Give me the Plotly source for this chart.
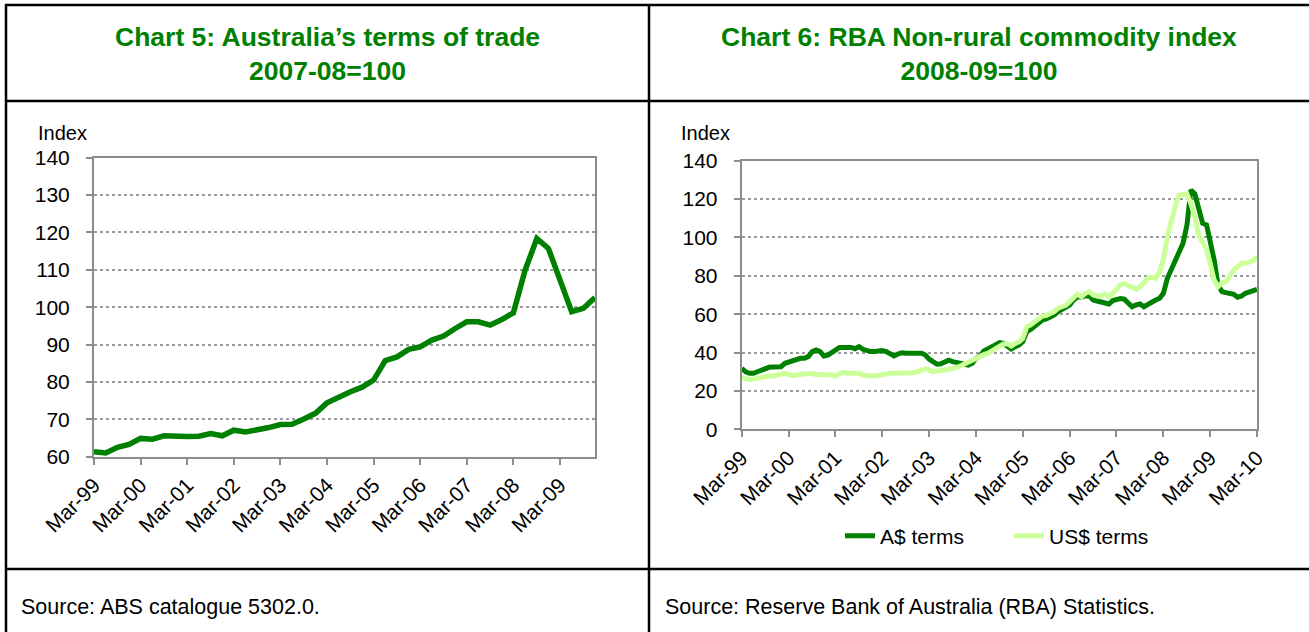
import pandas as pd
import plotly.graph_objects as go

W, H = 1309, 632

# ---------------- Data ----------------
# Chart 5: quarterly terms of trade, Mar-99 .. Dec-09
tot_dates = pd.date_range("1999-03-01", "2009-12-01", freq="3MS")
tot_values = [61.3, 61.0, 62.5, 63.3, 64.9, 64.7, 65.6, 65.4, 65.4, 65.5, 66.2,
              65.6, 67.1, 66.6, 67.1, 67.8, 68.6, 68.7, 70.1, 71.6, 74.4, 76.1,
              77.4, 78.6, 80.5, 85.7, 86.7, 88.7, 89.4, 91.2, 92.3, 94.3, 96.1,
              96.1, 95.2, 96.7, 98.5, 109.9, 118.4, 115.7, 106.8, 98.8, 99.7, 102.6]

# Chart 6: monthly RBA non-rural commodity index, Mar-99 .. Mar-10
rba_dates = pd.date_range("1999-03-01", "2010-03-01", freq="MS")
aud_terms = [31.8, 29.9, 29.2, 29.2, 30.0, 30.9, 31.4, 32.3, 32.5, 32.5, 32.6, 34.4,
             35.1, 35.3, 36.6, 37.0, 37.0, 37.9, 40.5, 41.3, 40.5, 38.2, 38.7, 40.3,
             41.3, 42.7, 42.7, 42.7, 42.7, 42.0, 43.1, 41.7, 40.8, 40.5, 40.5, 40.8,
             41.0, 40.5, 39.2, 38.2, 39.2, 39.9, 39.6, 39.4, 39.4, 39.6, 39.6, 38.7,
             36.6, 34.9, 34.0, 34.2, 35.1, 36.0, 35.3, 34.7, 34.5, 33.9, 33.5, 34.4,
             37.0, 38.2, 40.8, 41.9, 43.0, 44.5, 45.2, 44.8, 43.1, 41.9, 43.1, 44.0,
             45.7, 50.9, 52.1, 53.8, 55.6, 57.0, 57.5, 58.4, 59.6, 61.3, 62.5, 63.6,
             64.8, 67.4, 69.1, 68.8, 69.5, 69.5, 67.4, 66.9, 66.5, 66.0, 65.3, 67.1,
             67.8, 68.1, 67.8, 65.7, 63.9, 64.8, 65.3, 63.9, 65.3, 66.4, 67.4, 68.3,
             70.9, 78.7, 83.0, 87.4, 91.7, 96.9, 106.5, 124.7, 122.7, 114.3, 107.4, 106.5,
             98.7, 88.3, 75.2, 71.8, 71.2, 70.5, 70.3, 68.8, 69.5, 70.9, 71.4, 72.3,
             72.9]
usd_terms = [26.9, 26.2, 26.0, 26.2, 26.6, 27.1, 27.8, 27.8, 27.8, 28.3, 28.8, 29.2,
             28.6, 28.0, 28.3, 28.8, 28.8, 29.0, 29.2, 28.6, 28.3, 28.3, 28.3, 28.5,
             27.8, 28.8, 29.7, 29.2, 29.2, 29.5, 29.2, 28.3, 27.8, 27.8, 27.8, 28.3,
             28.8, 29.2, 29.2, 29.2, 29.2, 29.0, 29.0, 29.2, 29.5, 30.0, 30.9, 31.6,
             30.9, 29.9, 30.4, 30.9, 30.9, 31.3, 31.6, 32.1, 33.0, 34.0, 35.1, 36.1,
             37.0, 37.9, 38.9, 39.6, 40.8, 42.0, 43.2, 44.5, 44.5, 43.4, 44.8, 45.7,
             47.4, 53.5, 54.4, 56.1, 57.8, 59.0, 59.4, 60.1, 61.3, 63.1, 63.9, 64.8,
             66.5, 68.3, 70.5, 69.1, 70.9, 71.8, 70.0, 69.5, 69.5, 70.5, 69.1, 70.9,
             72.6, 75.2, 76.1, 74.7, 74.3, 73.0, 74.3, 76.4, 78.7, 79.2, 78.7, 82.2,
             88.3, 100.4, 109.1, 116.1, 122.1, 122.1, 122.7, 117.8, 110.8, 101.3, 96.9, 93.5,
             86.5, 77.8, 74.3, 76.4, 76.9, 80.4, 83.0, 84.8, 86.5, 86.5, 87.4, 87.9,
             90.0]

tick_dates_5 = pd.date_range("1999-03-01", "2009-03-01", freq="12MS")
tick_dates_6 = pd.date_range("1999-03-01", "2010-03-01", freq="12MS")
tick_text_5 = ["Mar-99", "Mar-00", "Mar-01", "Mar-02", "Mar-03", "Mar-04",
               "Mar-05", "Mar-06", "Mar-07", "Mar-08", "Mar-09"]
tick_text_6 = tick_text_5 + ["Mar-10"]

title_5 = "Chart 5: Australia’s terms of trade<br>2007-08=100"
title_6 = "Chart 6: RBA Non-rural commodity index<br>2008-09=100"
source_5 = "Source: ABS catalogue 5302.0."
source_6 = "Source: Reserve Bank of Australia (RBA) Statistics."

# ---------------- Style ----------------
FONT = "Liberation Sans, Arial, sans-serif"
DARK = "#008000"
LIGHT = "#CCFF99"
AXIS = "#8c8c8c"
GRID = "#9a9a9a"


def px(x):
    return x / W


def py(y):
    return 1 - y / H


fig = go.Figure()
fig.add_trace(go.Scatter(x=tot_dates, y=tot_values, mode="lines",
                         line=dict(color=DARK, width=5.5), showlegend=False,
                         xaxis="x", yaxis="y"))
fig.add_trace(go.Scatter(x=rba_dates, y=aud_terms, mode="lines", name="A$ terms",
                         line=dict(color=DARK, width=5), xaxis="x2", yaxis="y2"))
fig.add_trace(go.Scatter(x=rba_dates, y=usd_terms, mode="lines", name="US$ terms",
                         line=dict(color=LIGHT, width=5), xaxis="x2", yaxis="y2"))

common_x = dict(type="date", showline=True, linecolor=AXIS, linewidth=2, mirror=True,
                showgrid=False, ticks="outside", ticklen=6, tickcolor=AXIS, tickwidth=2,
                tickangle=-45, tickfont=dict(family=FONT, size=21, color="black"),
                zeroline=False, automargin=False)
common_y = dict(showline=True, linecolor=AXIS, linewidth=2, mirror=True,
                showgrid=True, gridcolor=GRID, griddash="dot", gridwidth=1.5,
                ticks="outside", ticklen=6, tickcolor=AXIS, tickwidth=2,
                tickfont=dict(family=FONT, size=21, color="black"),
                zeroline=False, ticklabelstandoff=12, automargin=False)

fig.update_layout(
    width=W, height=H, margin=dict(l=0, r=0, t=0, b=0, autoexpand=False),
    paper_bgcolor="white", plot_bgcolor="white",
    xaxis=dict(common_x, domain=[px(94), px(595)],
               range=[tot_dates[0], tot_dates[-1]],
               tickvals=list(tick_dates_5), ticktext=tick_text_5, anchor="y"),
    yaxis=dict(common_y, domain=[py(456.7), py(157.7)], range=[60, 140], dtick=10,
               anchor="x"),
    xaxis2=dict(common_x, domain=[px(741.7), px(1257)],
                range=[rba_dates[0], rba_dates[-1]],
                tickvals=list(tick_dates_6), ticktext=tick_text_6, anchor="y2"),
    yaxis2=dict(common_y, domain=[py(429.3), py(160.7)], range=[0, 140], dtick=20,
                anchor="x2"),
    legend=dict(orientation="h", x=px(840), xanchor="left", y=py(536),
                yanchor="middle", font=dict(family=FONT, size=21, color="black"),
                bgcolor="rgba(0,0,0,0)", entrywidth=124, entrywidthmode="pixels"),
)

# Panel borders
line_style = dict(color="black", width=2.5)
shapes = [
    dict(type="line", xref="paper", yref="paper", x0=px(5), x1=1, y0=py(5), y1=py(5), line=line_style),
    dict(type="line", xref="paper", yref="paper", x0=px(6), x1=px(6), y0=py(4), y1=0, line=line_style),
    dict(type="line", xref="paper", yref="paper", x0=px(649), x1=px(649), y0=py(4), y1=0, line=line_style),
    dict(type="line", xref="paper", yref="paper", x0=px(5), x1=1, y0=py(101), y1=py(101), line=line_style),
    dict(type="line", xref="paper", yref="paper", x0=px(5), x1=1, y0=py(569), y1=py(569), line=line_style),
]
fig.update_layout(shapes=shapes)

ann = []
for cx, txt in [(327, title_5), (979, title_6)]:
    ann.append(dict(xref="paper", yref="paper", x=px(cx), y=py(54), text=f"<b>{txt}</b>",
                    showarrow=False, xanchor="center", yanchor="middle",
                    font=dict(family=FONT, size=26.5, color=DARK)))
for lx, txt in [(36, "Index"), (679, "Index")]:
    ann.append(dict(xref="paper", yref="paper", x=px(lx), y=py(133), text=txt,
                    showarrow=False, xanchor="left", yanchor="middle",
                    font=dict(family=FONT, size=20, color="black")))
for lx, txt in [(19, source_5), (663, source_6)]:
    ann.append(dict(xref="paper", yref="paper", x=px(lx), y=py(607), text=txt,
                    showarrow=False, xanchor="left", yanchor="middle",
                    font=dict(family=FONT, size=21.5, color="black")))
fig.update_layout(annotations=ann)

fig.write_html("out.html", config={"displayModeBar": False},
               post_script="document.body.style.margin='0';document.body.style.overflow='hidden';")
